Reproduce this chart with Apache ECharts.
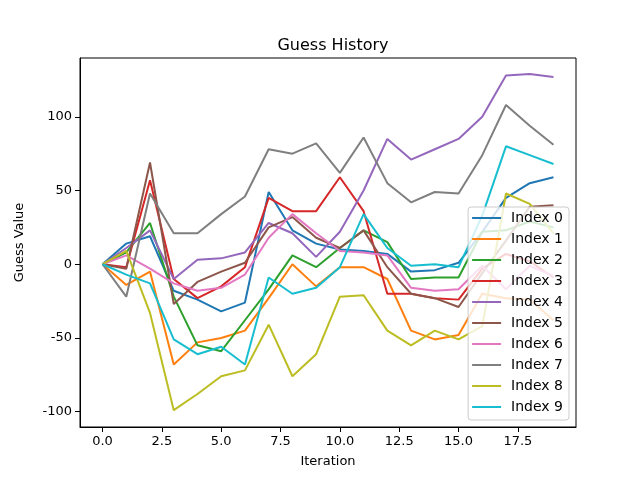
<!DOCTYPE html>
<html>
<head>
<meta charset="utf-8">
<script src="https://cdn.jsdelivr.net/npm/echarts@6/dist/echarts.min.js"></script>
<style>
  html, body { margin: 0; padding: 0; background: #fff; }
  #chart { width: 640px; height: 480px; }
</style>
</head>
<body>
<div id="chart"></div>
<script>
// Values, one array per series.
var iterations = [0, 1, 2, 3, 4, 5, 6, 7, 8, 9, 10, 11, 12, 13, 14, 15, 16, 17, 18, 19];
var index0 = [0, 14, 19, -18, -24, -32, -26, 49, 23, 14, 10, 9, 7, -5, -4, 1, 22, 45, 55, 59];
var index1 = [0, -14, -5, -68, -53, -50, -45, -23, 0, -15, -2, -2, -10, -45, -51, -48, -20, -23, -24, -38];
var index2 = [0, 8, 28, -22, -55, -59, -38, -17, 6, -2, 11, 23, 15, -10, -9, -9, 22, 23, 29, 25];
var index3 = [0, -2, 57, -10, -23, -15, -2, 45, 36, 36, 59, 36, -20, -20, -23, -24, -3, 7, 2, -9];
var index4 = [0, 11, 23, -10, 3, 4, 8, 28, 21, 5, 22, 50, 85, 71, 78, 85, 100, 128, 129, 127];
var index5 = [0, -3, 69, -27, -12, -5, 1, 25, 32, 18, 11, 23, -2, -20, -23, -29, -6, 16, 39, 40];
var index6 = [0, 6, -3, -13, -18, -16, -7, 18, 34, 21, 9, 8, 6, -16, -18, -17, -1, -17, -1, -8];
var index7 = [0, -22, 48, 21, 21, 34, 46, 78, 75, 82, 62, 86, 55, 42, 49, 48, 74, 108, 94, 81];
var index8 = [0, 9, -33, -99, -88, -76, -72, -41, -76, -61, -22, -21, -45, -55, -45, -51, -42, 48, 41, 21];
var index9 = [0, -7, -13, -51, -61, -56, -68, -9, -20, -16, -2, 34, 11, -1, 0, -2, 33, 80, 74, 68];

var seriesNames = ["Index 0", "Index 1", "Index 2", "Index 3", "Index 4",
                   "Index 5", "Index 6", "Index 7", "Index 8", "Index 9"];
var seriesValues = [index0, index1, index2, index3, index4,
                    index5, index6, index7, index8, index9];

var xTicks = [0, 2.5, 5, 7.5, 10, 12.5, 15, 17.5];
var yTicks = [-100, -50, 0, 50, 100];

// matplotlib tab10
var PALETTE = ["#1f77b4", "#ff7f0e", "#2ca02c", "#d62728", "#9467bd",
               "#8c564b", "#e377c2", "#7f7f7f", "#bcbd22", "#17becf"];

var FONT = "DejaVu Sans";

var chart = echarts.init(document.getElementById("chart"), null, { renderer: "canvas" });

var series = seriesNames.map(function (name, k) {
  return {
    name: name,
    type: "line",
    symbol: "none",
    showSymbol: false,
    lineStyle: { width: 2, color: PALETTE[k] },
    itemStyle: { color: PALETTE[k] },
    emphasis: { disabled: true },
    animation: false,
    data: iterations.map(function (x, i) { return [x, seriesValues[k][i]]; })
  };
});

var axisCommon = {
  axisLine: { show: true, onZero: false, lineStyle: { color: "#000", width: 1 } },
  axisTick: { show: true, inside: false, length: 5, lineStyle: { color: "#000", width: 1 } },
  splitLine: { show: false },
  nameTextStyle: { color: "#000", fontFamily: FONT, fontSize: 13 }
};

chart.setOption({
  animation: false,
  color: PALETTE,
  textStyle: { fontFamily: FONT },
  title: {
    text: "Guess History",
    left: 328, top: 33, textAlign: "center",
    textStyle: { fontFamily: FONT, fontSize: 16, fontWeight: "normal", color: "#000" }
  },
  grid: {
    left: 80, right: 64, top: 58, bottom: 53,
    show: true, borderColor: "#000", borderWidth: 1, backgroundColor: "#fff"
  },
  legend: {
    data: seriesNames,
    orient: "vertical",
    right: 71, bottom: 60,
    padding: [4, 6, 6, 4],
    itemWidth: 29, itemHeight: 2, itemGap: 7,
    icon: "rect",
    backgroundColor: "rgba(255,255,255,0.8)",
    borderColor: "#cccccc", borderWidth: 1, borderRadius: 3,
    textStyle: { fontFamily: FONT, fontSize: 14, lineHeight: 14, color: "#000", padding: [0, 0, 0, 5] },
    selectedMode: false
  },
  xAxis: Object.assign({}, axisCommon, {
    type: "value",
    min: -0.95, max: 19.95,
    name: "Iteration", nameLocation: "middle", nameGap: 28,
    axisTick: Object.assign({}, axisCommon.axisTick, { customValues: xTicks }),
    axisLabel: {
      customValues: xTicks, margin: 8, color: "#000", fontFamily: FONT, fontSize: 13,
      formatter: function (v) { return v.toFixed(1); }
    }
  }),
  yAxis: Object.assign({}, axisCommon, {
    type: "value",
    min: -110.4, max: 139.9,
    name: "Guess Value", nameLocation: "middle", nameGap: 54, nameRotate: 90,
    axisTick: Object.assign({}, axisCommon.axisTick, { customValues: yTicks }),
    axisLabel: {
      customValues: yTicks, margin: 8, color: "#000", fontFamily: FONT, fontSize: 13,
      formatter: function (v) { return String(v); }
    }
  }),
  series: series
});
</script>
</body>
</html>
